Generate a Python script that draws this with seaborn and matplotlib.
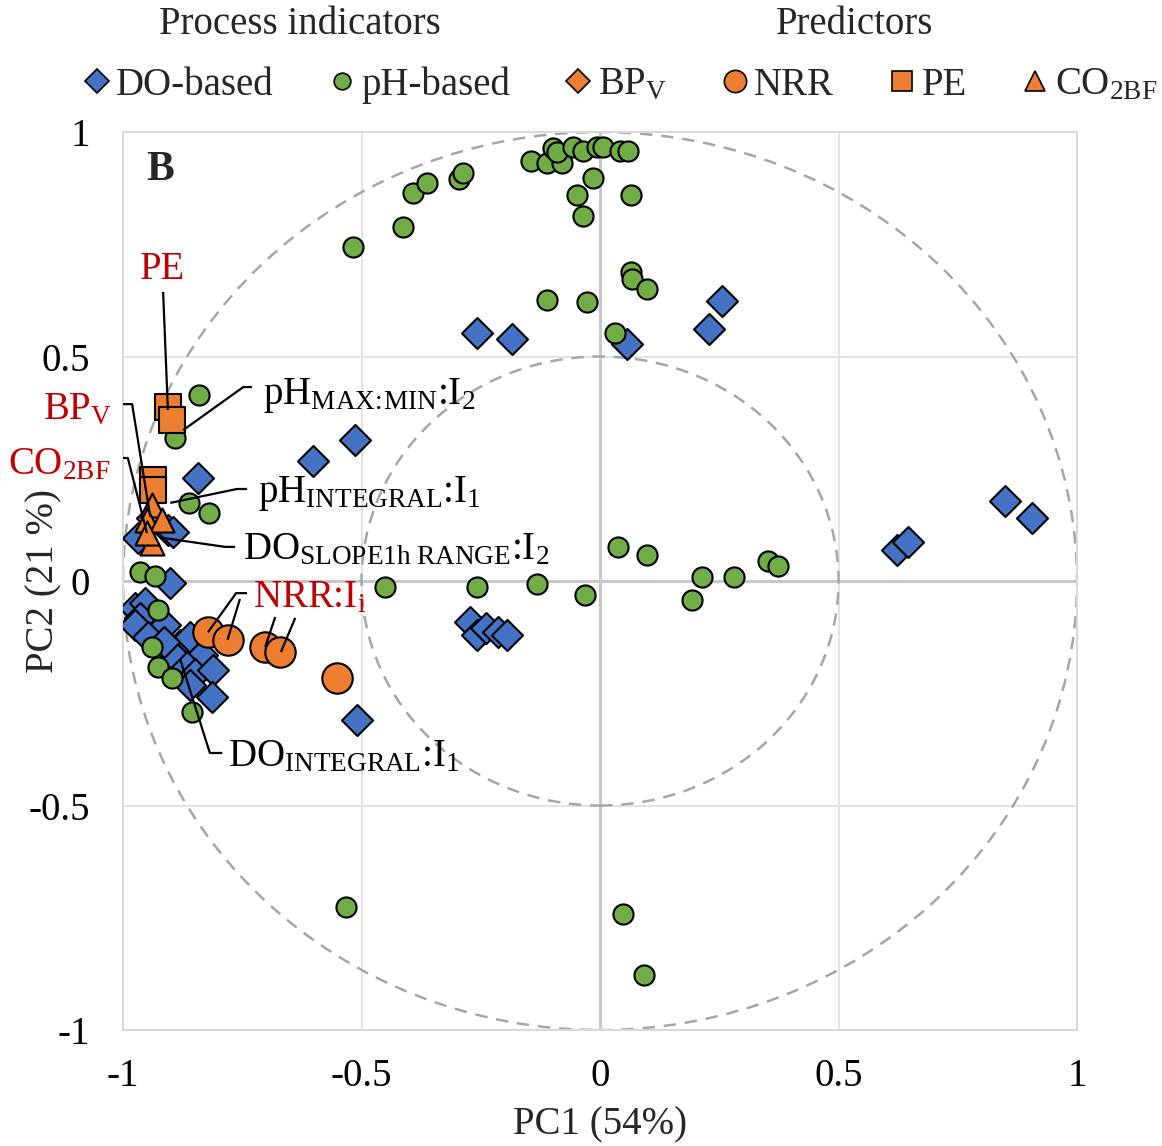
# PCA loading plot (panel B): process indicators vs predictors
import matplotlib.pyplot as plt
import matplotlib.patches as mpatches
from matplotlib.lines import Line2D
import seaborn as sns
import pandas as pd

sns.set_theme(style="white")
plt.rcParams["font.family"] = ["Liberation Serif", "DejaVu Serif"]
plt.rcParams["mathtext.fontset"] = "custom"
plt.rcParams["mathtext.rm"] = "Liberation Serif"
plt.rcParams["mathtext.it"] = "Liberation Serif:italic"
plt.rcParams["mathtext.bf"] = "Liberation Serif:bold"
plt.rcParams["axes.unicode_minus"] = False

# ---- loadings ----
do_pc1 = [0.256, 0.229, 0.057, -0.259, -0.184, -0.514, -0.602, -0.843,
          0.622, 0.646, 0.849, 0.905,
          -0.273, -0.259, -0.239, -0.213, -0.196, -0.510,
          -0.901, -0.975, -0.954, -0.964, -0.975, -0.912, -0.947, -0.881,
          -0.860, -0.835, -0.891, -0.866, -0.849, -0.811, -0.860, -0.814,
          -0.915, -0.906, -0.895, -0.968]
do_pc2 = [0.624, 0.561, 0.528, 0.552, 0.540, 0.314, 0.267, 0.229,
          0.068, 0.088, 0.179, 0.140,
          -0.091, -0.120, -0.105, -0.113, -0.120, -0.310,
          -0.005, -0.061, -0.050, -0.083, -0.098, -0.098, -0.124, -0.143,
          -0.124, -0.165, -0.169, -0.191, -0.206, -0.198, -0.232, -0.258,
          -0.135, 0.114, 0.109, 0.096]

ph_pc1 = [-0.518, -0.414, -0.393, -0.362, -0.295, -0.287, -0.145, -0.112,
          -0.080, -0.099, -0.090, -0.056, -0.035, -0.007, 0.007, 0.042,
          0.059, -0.014, -0.049, -0.035, 0.064, 0.064, 0.066, 0.098,
          -0.112, -0.028, 0.031,
          -0.451, -0.257, -0.133, -0.032, 0.038, 0.098,
          0.213, 0.192, 0.281, 0.353, 0.372,
          -0.533, 0.049, 0.092,
          -0.841, -0.891, -0.861, -0.819,
          -0.964, -0.934, -0.926, -0.939, -0.927, -0.898, -0.856]
ph_pc2 = [0.745, 0.789, 0.865, 0.887, 0.896, 0.909, 0.935, 0.932,
          0.932, 0.964, 0.955, 0.966, 0.958, 0.966, 0.966, 0.958,
          0.958, 0.897, 0.860, 0.813, 0.859, 0.688, 0.673, 0.651,
          0.626, 0.621, 0.552,
          -0.013, -0.013, -0.007, -0.031, 0.075, 0.059,
          0.010, -0.042, 0.010, 0.045, 0.033,
          -0.727, -0.742, -0.877,
          0.414, 0.318, 0.173, 0.151,
          0.021, 0.011, -0.065, -0.148, -0.191, -0.217, -0.291]

bpv_pc1 = [-0.940]
bpv_pc2 = [0.140]
nrr_pc1 = [-0.821, -0.779, -0.702, -0.671, -0.552]
nrr_pc2 = [-0.113, -0.131, -0.146, -0.157, -0.217]
pe_pc1 = [-0.905, -0.898, -0.937, -0.937]
pe_pc2 = [0.388, 0.359, 0.225, 0.203]
co2_pc1 = [-0.940, -0.950, -0.919, -0.940, -0.950]
co2_pc2 = [0.169, 0.136, 0.136, 0.085, 0.107]

tick_vals = [-1, -0.5, 0, 0.5, 1]
tick_labels = ["-1", "-0.5", "0", "0.5", "1"]

blue = "#4472C4"
green = "#70AD47"
orange = "#ED7D31"
red = "#C00000"

fig = plt.figure(figsize=(11.62, 11.46), dpi=100)
ax = fig.add_axes([0.1059, 0.1012, 0.8210, 0.7836])

# reference circles
for r in [1.0, 0.5]:
    ax.add_patch(mpatches.Circle((0, 0), r, fill=False, ec="#A6A6A6",
                                 lw=1.8, ls=(0, (5, 3.5)), zorder=1))

# grid
for v in [-0.5, 0.5]:
    ax.axvline(v, color="#E3E3E3", lw=1.5, zorder=0)
    ax.axhline(v, color="#E3E3E3", lw=1.5, zorder=0)
ax.axvline(0, color="#C8C8C8", lw=2.2, zorder=0)
ax.axhline(0, color="#C8C8C8", lw=2.2, zorder=0)

groups = [
    (do_pc1, do_pc2, "D", 250, blue),
    (ph_pc1, ph_pc2, "o", 210, green),
    (bpv_pc1, bpv_pc2, "D", 250, orange),
    (nrr_pc1, nrr_pc2, "o", 480, orange),
    (pe_pc1, pe_pc2, "s", 330, orange),
    (co2_pc1, co2_pc2, "^", 300, orange),
]
for i, (xs, ys, mk, sz, col) in enumerate(groups):
    d = pd.DataFrame({"pc1": xs, "pc2": ys})
    sns.scatterplot(data=d, x="pc1", y="pc2", marker=mk, s=sz, color=col,
                    edgecolor="black", linewidth=1.5, ax=ax,
                    legend=False, zorder=3 + i)

ax.set_xlim(-1, 1)
ax.set_ylim(-1, 1)
ax.set_xticks(tick_vals)
ax.set_xticklabels(tick_labels)
ax.set_yticks(tick_vals)
ax.set_yticklabels(tick_labels)
ax.tick_params(axis="both", length=0, labelsize=28, colors="black")
ax.tick_params(axis="x", pad=20)
ax.tick_params(axis="y", pad=24)
for s in ax.spines.values():
    s.set_color("#D9D9D9")
    s.set_linewidth(1.5)
ax.set_xlabel("PC1 (54%)", fontsize=28)
ax.set_ylabel("PC2 (21 %)", fontsize=28)
ax.xaxis.set_label_coords(0.5, -0.085)
ax.yaxis.set_label_coords(-0.064, 0.5)

ax.text(-0.922, 0.915, "B", fontsize=30, fontweight="bold",
        ha="center", va="center")

# labels with leader lines
labels = [
    ("PE", -0.918, 0.693, "center", red,
     [[(-0.916, 0.644), (-0.906, 0.381)]]),
    (r"pH$_{\mathrm{MAX\!:\!MIN}}$:I$_{2}$", -0.706, 0.414, "left", "black",
     [[(-0.730, 0.432), (-0.748, 0.432), (-0.874, 0.336)]]),
    (r"BP$_{\mathrm{V}}$", -1.023, 0.381, "right", red,
     [[(-1.002, 0.394), (-0.981, 0.394), (-0.943, 0.143)]]),
    (r"CO$_{\mathrm{2BF}}$", -1.027, 0.258, "right", red,
     [[(-1.010, 0.274), (-0.990, 0.274), (-0.950, 0.107)]]),
    (r"pH$_{\mathrm{INTEGRAL}}$:I$_{1}$", -0.717, 0.196, "left", "black",
     [[(-0.740, 0.205), (-0.761, 0.205), (-0.901, 0.174)]]),
    (r"DO$_{\mathrm{SLOPE1h\ RANGE}}$:I$_{2}$", -0.748, 0.069, "left", "black",
     [[(-0.765, 0.076), (-0.786, 0.076), (-0.916, 0.096)]]),
    (r"NRR:I$_{\mathrm{i}}$", -0.727, -0.038, "left", red,
     [[(-0.740, -0.027), (-0.763, -0.027), (-0.822, -0.114)],
      [(-0.755, -0.040), (-0.781, -0.131)],
      [(-0.681, -0.080), (-0.702, -0.147)],
      [(-0.639, -0.082), (-0.669, -0.158)]]),
    (r"DO$_{\mathrm{INTEGRAL}}$:I$_{1}$", -0.780, -0.392, "left", "black",
     [[(-0.792, -0.383), (-0.818, -0.383), (-0.880, -0.175)]]),
]
for txt, tx, ty, ha, col, paths in labels:
    ax.text(tx, ty, txt, fontsize=28, color=col, ha=ha, va="center",
            zorder=10)
    for p in paths:
        ax.plot([q[0] for q in p], [q[1] for q in p], color="black",
                lw=1.6, zorder=9, solid_capstyle="butt")

# legend on top
handles = [
    Line2D([], [], ls="", marker="D", ms=12, mfc=blue, mec="black", mew=1.2),
    Line2D([], [], ls="", marker="o", ms=12, mfc=green, mec="black", mew=1.2),
    Line2D([], [], ls="", marker="D", ms=12, mfc=orange, mec="black", mew=1.2),
    Line2D([], [], ls="", marker="o", ms=16, mfc=orange, mec="black", mew=1.2),
    Line2D([], [], ls="", marker="s", ms=14, mfc=orange, mec="black", mew=1.2),
    Line2D([], [], ls="", marker="^", ms=14, mfc=orange, mec="black", mew=1.2),
]
legend_labels = ["DO-based", "pH-based", r"BP$_{\mathrm{V}}$", "NRR", "PE",
                 r"CO$_{\mathrm{2BF}}$"]
fig.legend(handles, legend_labels, ncol=6, loc="center",
           bbox_to_anchor=(620 / 1162, 1 - 85 / 1146), frameon=False,
           fontsize=28, handletextpad=0.15, columnspacing=1.4,
           handlelength=0.7, borderaxespad=0, borderpad=0)
fig.text(300 / 1162, 1 - 25 / 1146, "Process indicators", fontsize=28,
         ha="center", va="center")
fig.text(855 / 1162, 1 - 25 / 1146, "Predictors", fontsize=28,
         ha="center", va="center")

fig.savefig("out.png", dpi=100)
